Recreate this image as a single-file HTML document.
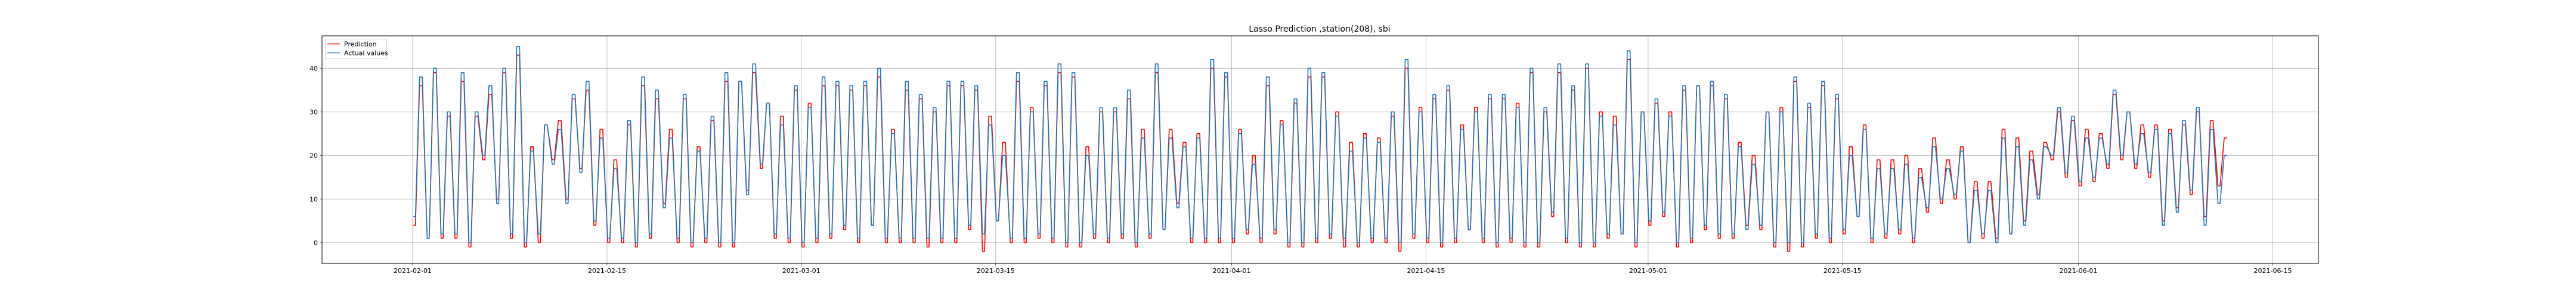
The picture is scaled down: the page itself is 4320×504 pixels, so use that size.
<!DOCTYPE html>
<html><head><meta charset="utf-8">
<style>
html,body{margin:0;padding:0;background:#fff;}
svg{display:block;font-family:"DejaVu Sans","Liberation Sans",sans-serif;}
</style></head>
<body>
<svg id="chart" width="4320" height="504" viewBox="0 0 4320 504" xmlns="http://www.w3.org/2000/svg">
<rect x="0" y="0" width="4320" height="504" fill="#fff"/>
<text x="2213" y="53" font-size="14" text-anchor="middle" fill="#000">Lasso Prediction ,station(208), sbi</text>
<g id="grid"></g>
<g id="series"></g>
<rect x="540" y="60" width="3348" height="381" fill="none" stroke="#262626" stroke-width="1.2"/>
<g id="axes"></g>
<g>
  <rect x="545.5" y="65.5" width="103" height="33" rx="2" fill="#fff" fill-opacity="0.8" stroke="#d0d0d0"/>
  <g>
    <line x1="549" y1="73.5" x2="570" y2="73.5" stroke="#ff0000" stroke-width="1.5"/>
    <text x="577" y="77.5" font-size="11" fill="#000">Prediction</text>
  </g>
  <g>
    <line x1="549" y1="88.5" x2="570" y2="88.5" stroke="#1f77b4" stroke-width="1.5"/>
    <text x="577" y="92.5" font-size="11" fill="#000">Actual values</text>
  </g>
</g>
</svg>
<script>
// ---- data (daily troughs / peaks) ----
const xTickLabels = ["2021-02-01","2021-02-15","2021-03-01","2021-03-15","2021-04-01","2021-04-15","2021-05-01","2021-05-15","2021-06-01","2021-06-15"];
const xTickDays = [0,14,28,42,59,73,89,103,120,134];
const yTickValues = [0,10,20,30,40];
const actualPeak = [38,40,30,39,30,36,40,45,21,27,26,34,37,24,
 17,28,38,35,24,34,21,29,39,37,41,32,27,36,31,38,37,36,37,40,25,37,
 34,31,37,37,36,27,20,39,30,37,41,39,20,31,31,35,24,41,24,22,24,42,39,25,18,
 38,27,33,40,39,29,21,24,23,30,42,30,34,36,26,30,34,34,31,40,31,41,
 36,41,29,27,44,30,33,29,36,36,37,34,22,18,30,30,38,32,37,34,20,26,17,17,
 18,15,22,17,21,12,12,24,22,19,22,31,29,24,24,35,30,25,
 26,25,28,31,26,20];
const actualTrough = [6,1,2,2,0,20,9,2,0,2,18,9,16,5,
 1,1,0,2,8,1,0,1,0,0,11,18,2,1,0,1,2,4,1,4,1,1,
 1,1,1,1,4,2,5,1,1,2,1,0,0,2,1,2,0,2,3,8,1,1,1,1,3,
 1,3,0,0,1,2,1,0,1,1,0,2,1,0,1,3,1,0,1,0,0,7,
 1,0,0,2,2,0,5,7,0,1,4,2,2,3,4,0,0,0,2,1,3,6,1,2,
 3,1,8,10,11,0,2,0,2,4,10,20,16,14,15,18,20,18,
 16,4,7,12,4,9];
const predPeak = [36,39,29,37,29,34,39,43,22,27,28,33,35,26,
 19,27,36,33,26,33,22,28,37,37,39,32,29,35,32,36,36,35,36,38,26,35,
 33,30,36,36,35,29,23,37,31,36,39,38,22,30,30,33,26,39,26,23,25,40,38,26,20,
 36,28,32,38,38,30,23,25,24,29,40,31,33,35,27,31,33,33,32,39,30,39,
 35,40,30,29,42,30,32,30,35,36,36,33,23,20,30,31,37,31,36,33,22,27,19,19,
 20,17,24,19,22,14,14,26,24,21,23,30,28,26,25,34,30,27,
 27,26,27,30,28,24];
const predTrough = [4,1,1,1,-1,19,10,1,-1,0,19,10,17,4,
 0,0,-1,1,9,0,-1,0,-1,-1,12,17,1,0,-1,0,1,3,0,4,0,0,
 0,-1,0,0,3,-2,5,0,0,1,0,-1,-1,1,0,1,-1,1,3,9,0,0,0,0,2,
 0,2,-1,-1,0,1,-1,-1,0,0,-2,1,0,-1,0,3,0,-1,0,-1,-1,6,
 0,-1,-1,1,2,-1,4,6,-1,0,3,1,1,4,3,-1,-2,-1,1,0,2,6,0,1,
 2,0,7,9,10,0,1,1,2,5,11,19,15,13,14,17,19,17,
 15,5,8,11,6,13];

// ---- scales ----
const X0 = 692, PX_PER_DAY = 23.28;
const Y0 = 406.3, PX_PER_UNIT = 7.3;
function xScale(d){ return X0 + d * PX_PER_DAY; }
function yScale(v){ return Y0 - v * PX_PER_UNIT; }
const NS = "http://www.w3.org/2000/svg";
const grid = document.getElementById('grid');
const axes = document.getElementById('axes');
const series = document.getElementById('series');

yTickValues.forEach(function(v){
  const y = yScale(v);
  const g = document.createElementNS(NS,'line');
  g.setAttribute('x1',540); g.setAttribute('x2',3888);
  g.setAttribute('y1',y); g.setAttribute('y2',y);
  g.setAttribute('stroke','#b0b0b0'); g.setAttribute('stroke-width','0.8');
  
  
  grid.appendChild(g);
  const t = document.createElementNS(NS,'line');
  t.setAttribute('x1',536.5); t.setAttribute('x2',540);
  t.setAttribute('y1',y); t.setAttribute('y2',y);
  t.setAttribute('stroke','#262626'); t.setAttribute('stroke-width','0.8');
  
  
  axes.appendChild(t);
  const l = document.createElementNS(NS,'text');
  l.setAttribute('x',533); l.setAttribute('y',y+4);
  l.setAttribute('text-anchor','end'); l.setAttribute('font-size','11');
  l.textContent = v;
  
  
  axes.appendChild(l);
});
xTickDays.forEach(function(d,i){
  const x = xScale(d);
  const g = document.createElementNS(NS,'line');
  g.setAttribute('x1',x); g.setAttribute('x2',x);
  g.setAttribute('y1',60); g.setAttribute('y2',441);
  g.setAttribute('stroke','#b0b0b0'); g.setAttribute('stroke-width','0.8');
  
  
  grid.appendChild(g);
  const t = document.createElementNS(NS,'line');
  t.setAttribute('x1',x); t.setAttribute('x2',x);
  t.setAttribute('y1',441); t.setAttribute('y2',444.5);
  t.setAttribute('stroke','#262626'); t.setAttribute('stroke-width','0.8');
  
  
  axes.appendChild(t);
  const l = document.createElementNS(NS,'text');
  l.setAttribute('x',x); l.setAttribute('y',457);
  l.setAttribute('text-anchor','middle'); l.setAttribute('font-size','11');
  l.textContent = xTickLabels[i];
  
  
  axes.appendChild(l);
});

function buildPoints(troughs, peaks){
  const pts = [];
  for (let d = 0; d < peaks.length; d++){
    pts.push(xScale(d + 0.05).toFixed(1) + ',' + yScale(troughs[d]).toFixed(1));
    pts.push(xScale(d + 0.2).toFixed(1) + ',' + yScale(troughs[d]).toFixed(1));
    pts.push(xScale(d + 0.5).toFixed(1) + ',' + yScale(peaks[d]).toFixed(1));
    pts.push(xScale(d + 0.7).toFixed(1) + ',' + yScale(peaks[d]).toFixed(1));
  }
  return pts.join(' ');
}
const pred = document.createElementNS(NS,'polyline');
pred.setAttribute('points', buildPoints(predTrough, predPeak));
pred.setAttribute('fill','none'); pred.setAttribute('stroke','#ff0000');
pred.setAttribute('stroke-width','1.6'); pred.setAttribute('stroke-linejoin','round');


series.appendChild(pred);
const act = document.createElementNS(NS,'polyline');
act.setAttribute('points', buildPoints(actualTrough, actualPeak));
act.setAttribute('fill','none'); act.setAttribute('stroke','#1f77b4');
act.setAttribute('stroke-width','1.6'); act.setAttribute('stroke-linejoin','round');


series.appendChild(act);
</script>
</body></html>
